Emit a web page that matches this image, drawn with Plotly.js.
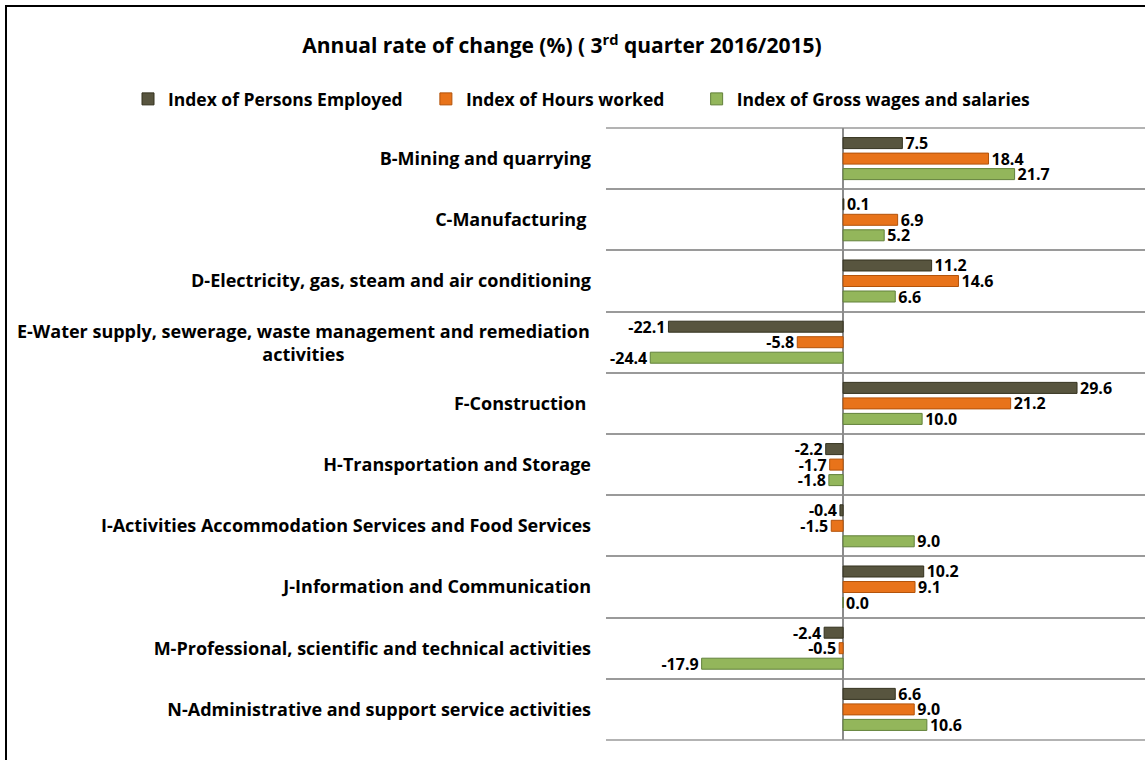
<!DOCTYPE html>
<html>
<head>
<meta charset="utf-8">
<script src="https://cdn.plot.ly/plotly-3.0.1.min.js"></script>
<style>
  html, body { margin: 0; padding: 0; background: #fff; overflow: hidden; }
  #chart { width: 1145px; height: 760px; }
  #frame { position: absolute; left: 5px; top: 5px; width: 1300px; height: 900px; border: 2px solid #000; box-sizing: border-box; pointer-events: none; }
</style>
</head>
<body>
<div id="chart"></div>
<div id="frame"></div>
<script>
const categories = [
  "B-Mining and quarrying",
  "C-Manufacturing ",
  "D-Electricity, gas, steam and air conditioning",
  "E-Water supply, sewerage, waste management and remediation activities",
  "F-Construction ",
  "H-Transportation and Storage",
  "I-Activities Accommodation Services and Food Services",
  "J-Information and Communication",
  "M-Professional, scientific and technical activities",
  "N-Administrative and support service activities"
];
const personsEmployed = [7.5, 0.1, 11.2, -22.1, 29.6, -2.2, -0.4, 10.2, -2.4, 6.6];
const hoursWorked     = [18.4, 6.9, 14.6, -5.8, 21.2, -1.7, -1.5, 9.1, -0.5, 9.0];
const grossWages      = [21.7, 5.2, 6.6, -24.4, 10.0, -1.8, 9.0, 0.0, -17.9, 10.6];
const seriesNames = ["Index of Persons Employed", "Index of Hours worked", "Index of Gross wages and salaries"];

const FONT = "'Open Sans', 'Liberation Sans', Arial, sans-serif";
const fills = ["#58553f", "#e8731a", "#93b65b"];
const edges = ["#34321f", "#b3530a", "#62813a"];
const legendPad = [4, 6, 0];   // trailing spaces widening the gaps between legend entries

const series = [personsEmployed, hoursWorked, grossWages];
const traces = series.map((vals, i) => ({
  type: "bar",
  orientation: "h",
  name: seriesNames[i] + "\u00a0".repeat(legendPad[i]),
  y: categories,
  x: vals,
  text: vals.map(v => v.toFixed(1)),
  textposition: "outside",
  constraintext: "none",
  cliponaxis: false,
  textfont: { family: FONT, size: 16, color: "#000", weight: "bold" },
  marker: { color: fills[i], line: { color: edges[i], width: 1 } },
  hoverinfo: "x+y"
}));

const eIndex = 3;
const tickText = categories.map((c, i) => i === eIndex ? "" : "<b>" + c + "</b>");

const PLOT_L = 606, PLOT_W = 539, PLOT_T = 128, PLOT_H = 612;

const layout = {
  width: 1145,
  height: 760,
  margin: { l: PLOT_L, r: 0, t: PLOT_T, b: 20, autoexpand: false },
  paper_bgcolor: "#fff",
  plot_bgcolor: "#fff",
  font: { family: FONT, color: "#000" },
  barmode: "group",
  bargap: 0.24,
  bargroupgap: 0.29,
  showlegend: true,
  title: {
    text: "<b>Annual rate of change (%) ( 3<sup>rd</sup> quarter 2016/2015)</b>",
    font: { family: FONT, size: 21, color: "#000" },
    x: 562 / 1145, xref: "container", xanchor: "center",
    y: 1 - 46 / 760, yref: "container", yanchor: "middle"
  },
  legend: {
    orientation: "h",
    x: (128 - PLOT_L) / PLOT_W, xanchor: "left", xref: "paper",
    y: 1 + (PLOT_T - 99) / PLOT_H, yref: "paper", yanchor: "middle",
    font: { family: FONT, size: 17.5, color: "#000", weight: "bold" },
    traceorder: "normal",
    bgcolor: "rgba(0,0,0,0)"
  },
  xaxis: {
    range: [-30, 38.2],
    showgrid: false,
    showticklabels: false,
    ticks: "",
    zeroline: true,
    zerolinecolor: "#8c8c8c",
    zerolinewidth: 1.5,
    showline: false,
    fixedrange: true
  },
  yaxis: {
    type: "category",
    autorange: "reversed",
    tickmode: "array",
    tickvals: categories,
    ticktext: tickText,
    tickson: "boundaries",
    ticks: "",
    showgrid: true,
    gridcolor: "#9a9a9a",
    gridwidth: 1.5,
    ticklabelstandoff: 14,
    tickfont: { family: FONT, size: 18, color: "#000" },
    showline: false,
    zeroline: false,
    fixedrange: true
  },
  shapes: [
    { type: "line", xref: "paper", yref: "paper", x0: 0, x1: 1, y0: 1, y1: 1, line: { color: "#9a9a9a", width: 1.5 }, layer: "below" },
    { type: "line", xref: "paper", yref: "paper", x0: 0, x1: 1, y0: 0, y1: 0, line: { color: "#9a9a9a", width: 1.5 }, layer: "below" }
  ],
  annotations: [{
    xref: "paper", yref: "y",
    x: (592 - PLOT_L) / PLOT_W, y: categories[eIndex],
    xanchor: "right", yanchor: "middle",
    align: "center",
    showarrow: false,
    text: "<b>E-Water supply, sewerage, waste management and remediation<br>activities</b>",
    font: { family: FONT, size: 18, color: "#000" }
  }]
};

Plotly.newPlot("chart", traces, layout, { displayModeBar: false, responsive: false });
</script>
</body>
</html>
